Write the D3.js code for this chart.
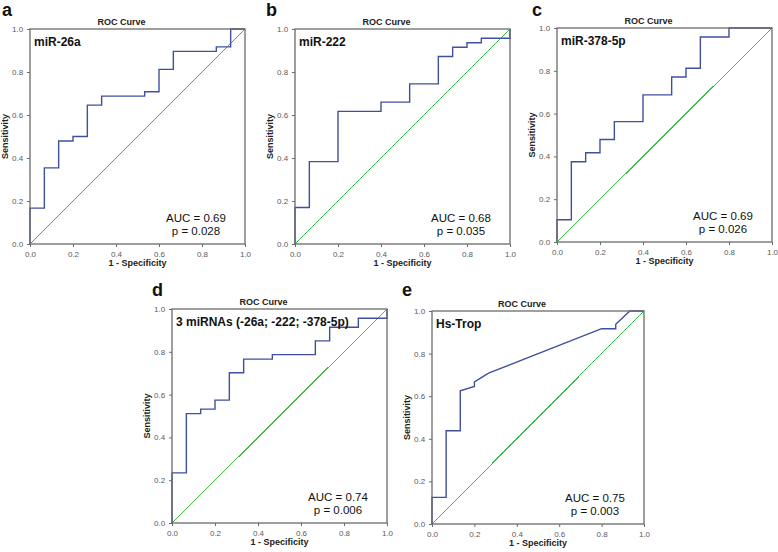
<!DOCTYPE html>
<html><head><meta charset="utf-8">
<script src="https://cdn.jsdelivr.net/npm/d3@7"></script>
<style>body{margin:0;background:#fff}svg{display:block}text{font-family:"Liberation Sans",Arial,sans-serif}</style>
</head><body><svg id="c" width="778" height="552"></svg>
<script>
// ---------- data ----------
const panelLetters = ["a","b","c","d","e"];
const markerNames = ["miR-26a","miR-222","miR-378-5p","3 miRNAs (-26a; -222; -378-5p)","Hs-Trop"];
const aucValues = ["0.69","0.68","0.69","0.74","0.75"];
const pValues = ["0.028","0.035","0.026","0.006","0.003"];
const tickValues = [0,0.2,0.4,0.6,0.8,1.0];

const miR26aFPR = [0,0,0.0667,0.0667,0.1333,0.1333,0.2,0.2,0.2667,0.2667,0.3333,0.3333,0.5333,0.5333,0.6,0.6,0.6667,0.6667,0.8667,0.8667,0.9333,0.9333,1.0];
const miR26aTPR = [0,0.167,0.167,0.354,0.354,0.479,0.479,0.5,0.5,0.646,0.646,0.688,0.688,0.708,0.708,0.812,0.812,0.896,0.896,0.917,0.917,1.0,1.0];

const miR222FPR = [0,0,0.0667,0.0667,0.2,0.2,0.4,0.4,0.5333,0.5333,0.6667,0.6667,0.7333,0.7333,0.8,0.8,0.8667,0.8667,1.0,1.0];
const miR222TPR = [0,0.17,0.17,0.383,0.383,0.617,0.617,0.66,0.66,0.745,0.745,0.872,0.872,0.915,0.915,0.936,0.936,0.957,0.957,1.0];

const miR378FPR = [0,0,0.0667,0.0667,0.1333,0.1333,0.2,0.2,0.2667,0.2667,0.4,0.4,0.5333,0.5333,0.6,0.6,0.6667,0.6667,0.8,0.8,1.0];
const miR378TPR = [0,0.104,0.104,0.375,0.375,0.417,0.417,0.479,0.479,0.5625,0.5625,0.6875,0.6875,0.771,0.771,0.812,0.812,0.958,0.958,1.0,1.0];

const combinedFPR = [0,0,0.0667,0.0667,0.1333,0.1333,0.2,0.2,0.2667,0.2667,0.3333,0.3333,0.4667,0.4667,0.6667,0.6667,0.7333,0.7333,0.8667,0.8667,1.0,1.0];
const combinedTPR = [0,0.234,0.234,0.511,0.511,0.532,0.532,0.574,0.574,0.702,0.702,0.766,0.766,0.787,0.787,0.851,0.851,0.915,0.915,0.957,0.957,1.0];

const hsTropFPR = [0,0,0.0667,0.0667,0.1333,0.1333,0.2,0.2,0.2667,0.8,0.8667,0.8667,0.9333,1.0];
const hsTropTPR = [0,0.125,0.125,0.4375,0.4375,0.625,0.646,0.667,0.708,0.917,0.917,0.9375,1.0,1.0];

const fprSeries = [miR26aFPR, miR222FPR, miR378FPR, combinedFPR, hsTropFPR];
const tprSeries = [miR26aTPR, miR222TPR, miR378TPR, combinedTPR, hsTropTPR];

// ---------- layout ----------
const layout = [
  {x:30,  y:29,  w:215, h:215, lx:2,   ly:16},
  {x:295, y:29,  w:215, h:215, lx:266, ly:16},
  {x:557, y:28,  w:215, h:214, lx:532, ly:16},
  {x:172, y:309, w:215, h:214, lx:152, ly:296},
  {x:432, y:311, w:212, h:213, lx:402, ly:296}
];
const blue = "#40509f", green = "#3dbb4a", frame = "#6b6b6b", tickCol = "#5a5a5a";

const svg = d3.select("#c");

layout.forEach((L, i) => {
  const g = svg.append("g").attr("transform", `translate(${L.x},${L.y})`);
  const x = d3.scaleLinear().domain([0,1]).range([0, L.w]);
  const y = d3.scaleLinear().domain([0,1]).range([L.h, 0]);

  // panel letter
  svg.append("text").attr("x", L.lx).attr("y", L.ly)
    .attr("font-size", 18).attr("font-weight", "bold").attr("fill", "#111")
    .text(panelLetters[i]);

  // axes
  const xAxis = d3.axisBottom(x).tickValues(tickValues).tickFormat(d3.format(".1f")).tickSize(3).tickSizeOuter(0);
  const yAxis = d3.axisLeft(y).tickValues(tickValues).tickFormat(d3.format(".1f")).tickSize(3).tickSizeOuter(0);
  const gx = g.append("g").attr("transform", `translate(0,${L.h})`).call(xAxis);
  const gy = g.append("g").call(yAxis);
  [gx, gy].forEach(a => {
    a.select(".domain").remove();
    a.selectAll("line").attr("stroke", frame);
    a.selectAll("text").attr("fill", tickCol).attr("font-size", 8)
      .attr("font-family", '"Liberation Sans",Arial,sans-serif');
  });
  gx.selectAll("text").attr("dy", "0.9em");
  gy.selectAll("text").attr("dx", "-0.1em");

  // diagonal reference
  g.append("path")
    .attr("d", d3.line().x(d => x(d)).y(d => y(d))([0,1]))
    .attr("stroke", green).attr("stroke-width", 1).attr("fill", "none")
    .attr("shape-rendering", "crispEdges");

  // ROC curve
  const pts = fprSeries[i].map((f, k) => [f, tprSeries[i][k]]);
  g.append("path")
    .attr("d", d3.line().x(d => x(d[0])).y(d => y(d[1]))(pts))
    .attr("stroke", blue).attr("stroke-width", 1.4).attr("fill", "none")
    .attr("stroke-linejoin", "miter");

  // frame
  g.append("rect").attr("x", 0).attr("y", 0).attr("width", L.w).attr("height", L.h)
    .attr("fill", "none").attr("stroke", frame).attr("stroke-width", 1.3);

  // title
  g.append("text").attr("x", L.w/2 - 16).attr("y", -4).attr("text-anchor", "middle")
    .attr("font-size", 9).attr("font-weight", "bold").attr("fill", "#222").text("ROC Curve");

  // marker label
  g.append("text").attr("x", 4).attr("y", 17)
    .attr("font-size", 12).attr("font-weight", "bold").attr("fill", "#111").text(markerNames[i]);

  // AUC / p
  g.append("text").attr("x", L.w - 49).attr("y", L.h - 22).attr("text-anchor", "middle")
    .attr("font-size", 11.5).attr("fill", "#111").text("AUC = " + aucValues[i]);
  g.append("text").attr("x", L.w - 49).attr("y", L.h - 9).attr("text-anchor", "middle")
    .attr("font-size", 11.5).attr("fill", "#111").text("p = " + pValues[i]);

  // axis titles
  g.append("text").attr("x", L.w/2).attr("y", L.h + 22).attr("text-anchor", "middle")
    .attr("font-size", 9).attr("font-weight", "bold").attr("fill", "#222").text("1 - Specificity");
  g.append("text").attr("transform", `translate(-22,${L.h/2}) rotate(-90)`).attr("text-anchor", "middle")
    .attr("font-size", 9).attr("font-weight", "bold").attr("fill", "#222").text("Sensitivity");
});
</script></body></html>
